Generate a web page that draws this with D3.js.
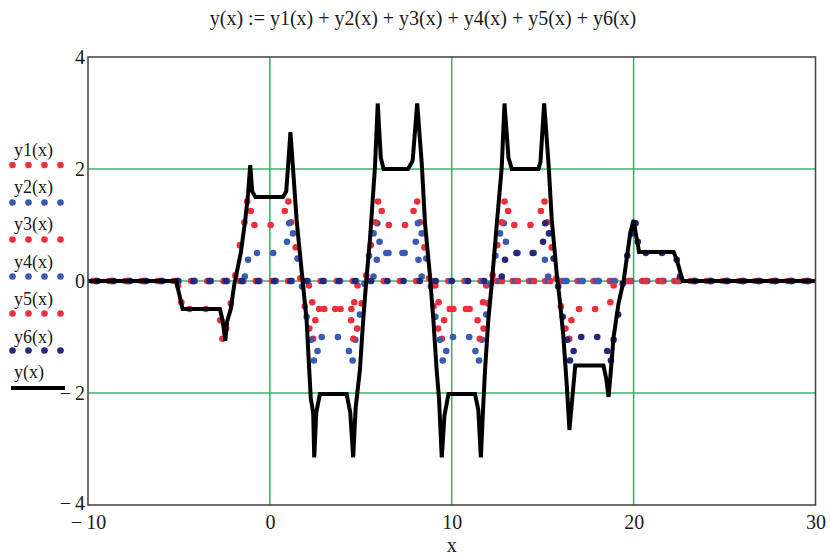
<!DOCTYPE html>
<html><head><meta charset="utf-8">
<script src="https://cdn.jsdelivr.net/npm/d3@7"></script>
<style>
html,body{margin:0;padding:0;background:#fff;}
svg{display:block;font-family:"Liberation Serif","Times New Roman",serif;}
</style></head><body>
<svg id="c" width="830" height="557"></svg>
<script>
// ---------- data ----------
const titleText = "y(x) := y1(x) + y2(x) + y3(x) + y4(x) + y5(x) + y6(x)";
const xAxisTitle = "x";
const xTicks = [-10, 0, 10, 20, 30];
const yTicks = [-4, -2, 0, 2, 4];
const gridXVals = [0, 10, 20];
const gridYVals = [-2, 0, 2];
const seriesNames = ["y1(x)", "y2(x)", "y3(x)", "y4(x)", "y5(x)", "y6(x)"];
const lineName = "y(x)";

const y1Pts = [[-9.74,0],[-8.85,0],[-7.96,0],[-7.07,0],[-6.18,0],[-5.30,0],[-5.05,-0.08],[-4.87,-0.38],[-4.41,-0.5],[-3.52,-0.5],
[-2.73,-0.7],[-2.61,-1.03],[-2.40,-0.85],[-2.15,-0.4],[-1.90,0.1],[-1.65,0.64],[-1.40,1.05],[-1.25,1.42],[-1.05,1.25],
[-0.85,1.0],[0.04,1.0],
[0.82,1.25],[1.02,1.42],[1.17,1.05],[1.42,0.6],[1.67,0.05],[1.92,-0.45],[2.17,-0.85],[2.38,-1.03],[2.50,-0.7],
[2.71,-0.5],[3.60,-0.5],[4.48,-0.5],[4.64,-0.38],[4.82,-0.08],
[5.37,0],[6.26,0],[7.15,0],[8.04,0],[8.92,0],[9.81,0],[10.70,0],[11.59,0],[12.48,0],[13.36,0],[14.25,0],[15.14,0],[16.03,0],[16.92,0],[17.80,0],[18.69,0],[19.58,0],[20.47,0],[21.36,0],[22.24,0],[23.13,0],[24.02,0],[24.91,0],[25.80,0],[26.68,0],[27.57,0],[28.46,0],[29.35,0]];

const y2Pts = [[-9.60,0],[-8.71,0],[-7.82,0],[-6.93,0],[-6.04,0],[-5.16,0],[-4.27,0],[-3.38,0],[-2.49,0],[-1.60,0],[-1.38,0.08],[-1.20,0.38],
[-0.71,0.5],[0.18,0.5],
[0.94,0.7],[1.06,1.03],[1.27,0.85],[1.52,0.4],[1.77,-0.1],[2.02,-0.64],[2.27,-1.05],[2.42,-1.42],[2.62,-1.25],
[2.85,-1.0],[3.74,-1.0],
[4.35,-1.25],[4.55,-1.42],[4.70,-1.05],[4.95,-0.6],[5.20,-0.05],[5.45,0.45],[5.70,0.85],[5.91,1.03],[6.03,0.7],
[6.40,0.5],[7.29,0.5],[8.17,0.38],[8.35,0.08],
[9.06,0],[9.95,0],[10.84,0],[11.73,0],[12.62,0],[13.50,0],[14.39,0],[15.28,0],[16.17,0],[17.06,0],[17.94,0],[18.83,0],[19.72,0],[20.61,0],[21.50,0],[22.38,0],[23.27,0],[24.16,0],[25.05,0],[25.94,0],[26.82,0],[27.71,0],[28.60,0],[29.49,0]];

const y3Pts = [[-9.46,0],[-8.57,0],[-7.68,0],[-6.79,0],[-5.90,0],[-5.02,0],[-4.13,0],[-3.24,0],[-2.35,0],[-1.46,0],[-0.57,0],[0.32,0],[1.21,0],
[2.15,-0.08],[2.33,-0.38],[2.99,-0.5],[3.88,-0.5],
[4.47,-0.7],[4.59,-1.03],[4.80,-0.85],[5.05,-0.4],[5.30,0.1],[5.55,0.64],[5.80,1.05],[5.95,1.42],[6.15,1.25],
[6.54,1.0],[7.43,1.0],
[7.90,1.25],[8.10,1.42],[8.25,1.05],[8.50,0.6],[8.75,0.05],[9.00,-0.45],[9.25,-0.85],[9.46,-1.03],[9.58,-0.7],
[10.09,-0.5],[10.98,-0.5],[11.72,-0.38],[11.90,-0.08],
[12.76,0],[13.64,0],[14.53,0],[15.42,0],[16.31,0],[17.20,0],[18.08,0],[18.97,0],[19.86,0],[20.75,0],[21.64,0],[22.52,0],[23.41,0],[24.30,0],[25.19,0],[26.08,0],[26.96,0],[27.85,0],[28.74,0],[29.63,0]];

const y4Pts = [[-9.48,0],[-8.59,0],[-7.70,0],[-6.81,0],[-5.92,0],[-5.04,0],[-4.15,0],[-3.26,0],[-2.37,0],[-1.48,0],[-0.59,0],[0.30,0],[1.19,0],[2.08,0],[2.97,0],[3.86,0],[4.74,0],
[5.70,0.08],[5.88,0.38],[6.52,0.5],[7.41,0.5],
[8.02,0.7],[8.14,1.03],[8.35,0.85],[8.60,0.4],[8.85,-0.1],[9.10,-0.64],[9.35,-1.05],[9.50,-1.42],[9.70,-1.25],
[10.07,-1.0],[10.96,-1.0],
[11.30,-1.25],[11.50,-1.42],[11.65,-1.05],[11.90,-0.6],[12.15,-0.05],[12.40,0.45],[12.65,0.85],[12.86,1.03],[12.98,0.7],
[13.62,0.5],[14.51,0.5],[15.12,0.38],[15.30,0.08],
[16.29,0],[17.18,0],[18.06,0],[18.95,0],[19.84,0],[20.73,0],[21.62,0],[22.50,0],[23.39,0],[24.28,0],[25.17,0],[26.06,0],[26.94,0],[27.83,0],[28.72,0],[29.61,0]];

const y5Pts = [[-9.66,0],[-8.77,0],[-7.88,0],[-6.99,0],[-6.10,0],[-5.22,0],[-4.33,0],[-3.44,0],[-2.55,0],[-1.66,0],[-0.77,0],[0.12,0],[1.01,0],[1.90,0],[2.79,0],[3.68,0],[4.56,0],[5.45,0],[6.34,0],[7.23,0],[8.12,0],
[9.10,-0.08],[9.28,-0.38],[9.89,-0.5],[10.78,-0.5],
[11.42,-0.7],[11.54,-1.03],[11.75,-0.85],[12.00,-0.4],[12.25,0.1],[12.50,0.64],[12.75,1.05],[12.90,1.42],[13.10,1.25],
[13.44,1.0],[14.33,1.0],
[14.90,1.25],[15.10,1.42],[15.25,1.05],[15.50,0.6],[15.75,0.05],[16.00,-0.45],[16.25,-0.85],[16.46,-1.03],[16.58,-0.7],
[17.00,-0.5],[17.88,-0.5],[18.72,-0.38],[18.90,-0.08],
[19.76,0],[20.65,0],[21.54,0],[22.42,0],[23.31,0],[24.20,0],[25.09,0],[25.98,0],[26.86,0],[27.75,0],[28.64,0],[29.53,0]];

const y6Pts = [[-9.54,0],[-8.65,0],[-7.76,0],[-6.87,0],[-5.98,0],[-5.10,0],[-4.21,0],[-3.32,0],[-2.43,0],[-1.54,0],[-0.65,0],[0.24,0],[1.13,0],[2.02,0],[2.91,0],[3.80,0],[4.68,0],[5.57,0],[6.46,0],[7.35,0],[8.24,0],[9.12,0],[10.01,0],[10.90,0],[11.79,0],
[12.75,0.08],[12.93,0.38],[13.56,0.5],[14.45,0.5],
[15.02,0.7],[15.14,1.03],[15.35,0.85],[15.60,0.4],[15.85,-0.1],[16.10,-0.64],[16.35,-1.05],[16.50,-1.42],[16.70,-1.25],
[17.12,-1.0],[18.00,-1.0],
[18.55,-1.25],[18.75,-1.42],[18.90,-1.05],[19.15,-0.6],[19.40,-0.05],[19.65,0.45],[19.90,0.85],[20.11,1.03],[20.23,0.7],
[20.67,0.5],[21.56,0.5],[22.37,0.38],[22.55,0.08],
[23.33,0],[24.22,0],[25.11,0],[26.00,0],[26.88,0],[27.77,0],[28.66,0],[29.55,0]];

const yLinePts = [[-10,0],[-5.15,0],[-4.8,-0.5],[-2.75,-0.5],[-2.6,-0.7],[-2.45,-1.07],[-2.35,-0.72],[-2.15,-0.5],[-1.95,-0.05],
[-1.6,0.5],[-1.35,1.1],[-1.2,1.55],[-1.08,2.07],[-0.97,1.6],[-0.8,1.5],[0.72,1.5],[0.9,1.6],[1.0,2.05],[1.13,2.66],
[1.28,1.98],[1.47,1.09],[1.74,0.2],[2.02,-0.7],[2.15,-1.5],[2.25,-2.1],[2.38,-2.35],[2.44,-3.15],[2.55,-2.35],[2.75,-2.02],
[4.22,-2.02],[4.42,-2.35],[4.58,-3.15],[4.72,-2.25],[4.95,-1.59],[5.13,-0.7],[5.3,0.0],[5.5,0.73],[5.78,2.04],[5.93,3.17],
[6.1,2.2],[6.25,2.0],[7.6,2.0],[7.85,2.15],[8.1,3.17],[8.35,2.1],[8.53,1.03],[8.8,0.1],[8.99,-0.7],[9.17,-1.59],[9.3,-2.1],
[9.45,-3.15],[9.6,-2.4],[9.82,-2.02],[11.28,-2.02],[11.46,-2.3],[11.6,-3.15],[11.72,-2.3],[11.83,-1.59],[12.01,-0.7],
[12.2,-0.05],[12.48,1.03],[12.75,2.04],[12.9,3.17],[13.12,2.2],[13.3,2.0],[14.77,2.0],[14.88,2.13],[15.08,3.17],[15.32,2.1],
[15.5,1.09],[15.78,0.1],[15.96,-0.4],[16.14,-1.0],[16.33,-1.89],[16.47,-2.66],[16.6,-2.19],[16.79,-1.51],[18.34,-1.51],
[18.5,-1.75],[18.62,-2.07],[18.72,-1.71],[18.9,-1.0],[19.17,-0.4],[19.45,0.0],[19.81,0.85],[20.0,1.09],[20.15,0.79],
[20.3,0.52],[22.2,0.52],[22.4,0.35],[22.7,0],[30,0]];

const seriesData = [y1Pts, y2Pts, y3Pts, y4Pts, y5Pts, y6Pts];

// ---------- styles ----------
const RED = "#ec2f3b", BLUE = "#3a5bb4", NAVY = "#23287a";
const seriesColors = [RED, BLUE, RED, BLUE, RED, NAVY];
const GRID = "#3db46c";
const FONT = "Liberation Serif, Times New Roman, serif";
const DOT_R = 3.3;

const svg = d3.select("#c");
const x = d3.scaleLinear().domain([-10, 30]).range([88, 815.5]);
const y = d3.scaleLinear().domain([-4, 4]).range([505, 57]);

// grid lines
svg.append("g").selectAll("line").data(gridXVals).enter().append("line")
  .attr("x1", d => x(d)).attr("x2", d => x(d)).attr("y1", y(4)).attr("y2", y(-4))
  .attr("stroke", GRID).attr("stroke-width", 1.6);
svg.append("g").selectAll("line").data(gridYVals).enter().append("line")
  .attr("x1", x(-10)).attr("x2", x(30)).attr("y1", d => y(d)).attr("y2", d => y(d))
  .attr("stroke", GRID).attr("stroke-width", 1.6);

// dotted series
seriesData.forEach((pts, i) => {
  svg.append("g").selectAll("circle").data(pts).enter().append("circle")
    .attr("cx", d => x(d[0])).attr("cy", d => y(d[1])).attr("r", DOT_R)
    .attr("fill", seriesColors[i]);
});

// sum line
svg.append("path").datum(yLinePts)
  .attr("d", d3.line().x(d => x(d[0])).y(d => y(d[1])))
  .attr("fill", "none").attr("stroke", "#000").attr("stroke-width", 4)
  .attr("stroke-linejoin", "miter").attr("stroke-miterlimit", 3);

// frame
svg.append("rect").attr("x", x(-10)).attr("y", y(4))
  .attr("width", x(30) - x(-10)).attr("height", y(-4) - y(4))
  .attr("fill", "none").attr("stroke", "#4a4a4a").attr("stroke-width", 1.6);

// axes
const fmt = d => d < 0 ? "\u2212\u2009" + Math.abs(d) : String(d);
svg.append("g").attr("transform", `translate(0,${y(-4)})`)
  .call(d3.axisBottom(x).tickValues(xTicks).tickSize(0).tickPadding(10).tickFormat(fmt))
  .call(g => g.select(".domain").remove())
  .attr("font-size", 20).attr("font-family", FONT)
  .selectAll("text").attr("fill", "#1a1a1a");
svg.append("g").attr("transform", `translate(${x(-10)},0)`)
  .call(d3.axisLeft(y).tickValues(yTicks).tickSize(0).tickPadding(3).tickFormat(fmt))
  .call(g => g.select(".domain").remove())
  .attr("font-size", 20).attr("font-family", FONT)
  .selectAll("text").attr("fill", "#1a1a1a").attr("dy", d => d === -4 ? "0.2em" : "0.32em");

// title & axis title
svg.append("text").attr("x", 423).attr("y", 24.5).attr("text-anchor", "middle")
  .attr("font-size", 20).attr("font-family", FONT).attr("fill", "#1a1a1a").text(titleText);
svg.append("text").attr("x", x(10)).attr("y", 552).attr("text-anchor", "middle")
  .attr("font-size", 20).attr("font-family", FONT).attr("fill", "#1a1a1a").text(xAxisTitle);

// legend
const legTextY = [155.5, 193, 230, 267.5, 305, 342.5, 377.5];
const legDotY = [165, 202.5, 239.5, 276.5, 313.5, 350.5];
const legDotX = [12.5, 28.5, 44.5, 60.5];
const leg = svg.append("g");
seriesNames.concat([lineName]).forEach((nm, i) => {
  leg.append("text").attr("x", 14).attr("y", legTextY[i]).attr("font-size", 18)
    .attr("font-family", FONT).attr("fill", "#1a1a1a").text(nm);
});
seriesNames.forEach((nm, i) => {
  leg.append("g").selectAll("circle").data(legDotX).enter().append("circle")
    .attr("cx", d => d).attr("cy", legDotY[i]).attr("r", DOT_R).attr("fill", seriesColors[i]);
});
leg.append("line").attr("x1", 11).attr("x2", 65).attr("y1", 388).attr("y2", 388)
  .attr("stroke", "#000").attr("stroke-width", 4);
</script>
</body></html>
